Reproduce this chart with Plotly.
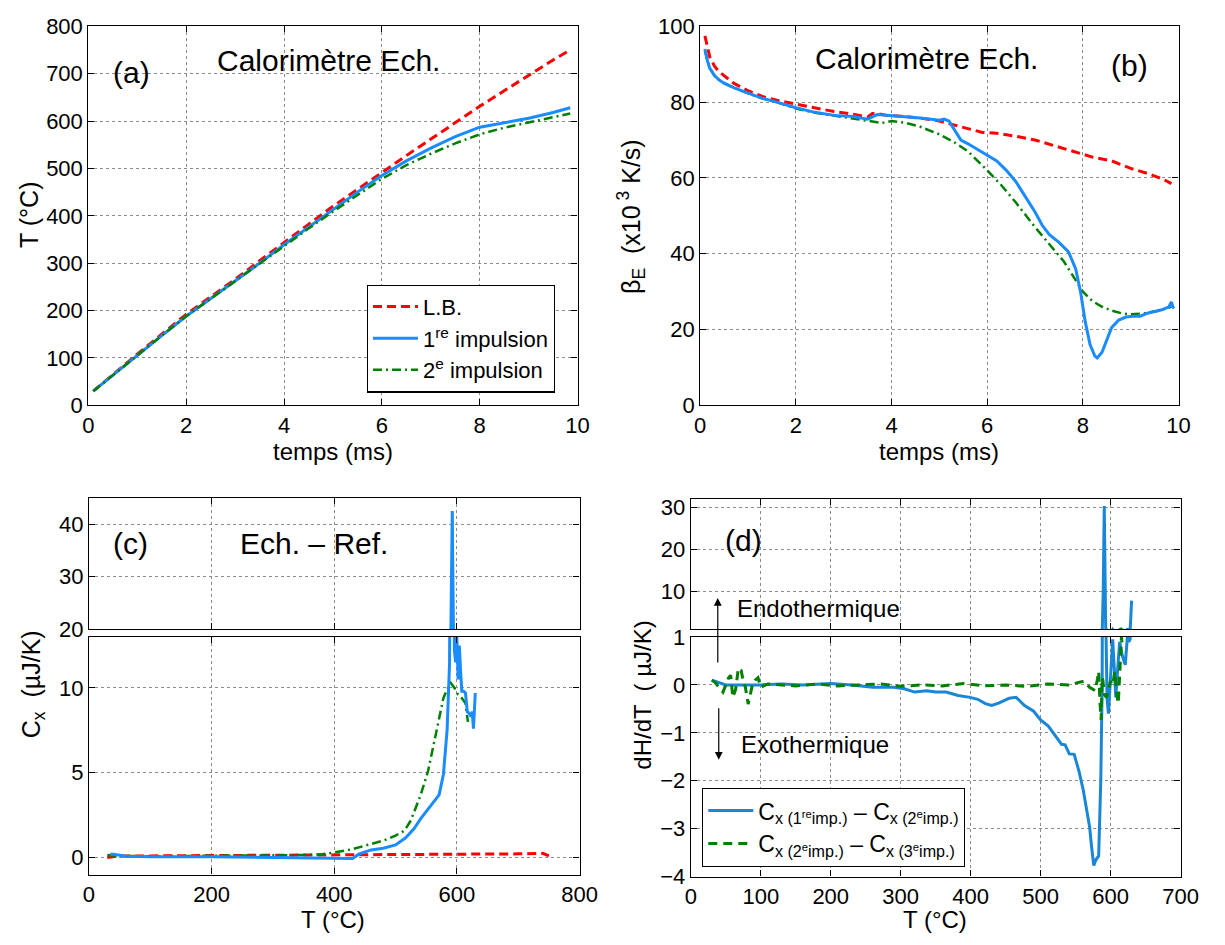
import plotly.graph_objects as go

# ---------------- data ----------------
# (a) temperature vs time
t_a = [0.1, 0.5, 1, 1.5, 2, 2.5, 3, 3.5, 4, 4.5, 5, 5.5, 6, 6.5, 7, 7.5, 8, 8.5, 9, 9.5, 9.85]
T_lb = [30, 65, 108, 150, 192, 229, 266, 305, 344, 382, 420, 456, 492, 527, 562, 597, 631, 664, 697, 729, 750]
T_imp1 = [30, 64, 106, 147, 188, 225, 262, 300, 339, 376, 413, 450, 485, 516, 543, 567, 587, 596, 606, 618, 628]
T_imp2 = [30, 64, 106, 147, 188, 225, 262, 299, 337, 373, 409, 444, 478, 507, 531, 553, 572, 586, 597, 608, 616]

# (b) heating rate vs time
t_b_lb = [0.1, 0.15, 0.2, 0.3, 0.4, 0.5, 0.7, 1.0, 1.3, 1.6, 2.0, 2.4, 2.8, 3.2, 3.5, 3.6, 3.7, 3.9, 4.2, 4.6,
          5.0, 5.3, 5.6, 5.9, 6.2, 6.6, 7.0, 7.4, 7.8, 8.2, 8.6, 9.0, 9.4, 9.7, 9.85]
b_lb = [97.5, 95, 92, 89.5, 88, 87, 85, 83, 81.5, 80.5, 79.5, 78.5, 77.5, 76.8, 76, 77, 77, 76.5, 76.3, 75.8,
        75, 74, 73, 72, 71.8, 71, 70, 68.5, 67, 65.5, 64.5, 62.5, 61, 59.5, 58.5]
t_b1 = [0.1, 0.15, 0.2, 0.3, 0.4, 0.5, 0.7, 1.0, 1.3, 1.6, 2.0, 2.4, 2.8, 3.2, 3.5, 3.7, 3.9, 4.2, 4.6, 5.0,
        5.1, 5.2, 5.3, 5.45, 5.6, 5.8, 6.0, 6.2, 6.4, 6.6, 6.8, 7.0, 7.15, 7.3, 7.5, 7.7, 7.85, 7.95, 8.05,
        8.15, 8.25, 8.3, 8.4, 8.5, 8.6, 8.75, 8.9, 9.05, 9.2, 9.35, 9.5, 9.65, 9.8, 9.85, 9.88, 9.9]
b_imp1 = [94, 91, 89, 87, 85.8, 85, 83.8, 82.3, 81, 80, 78.5, 77.3, 76.5, 76.2, 75.5, 76.7, 76.5, 76.3, 75.8, 75.2,
          75.5, 75, 73, 70, 69, 67.5, 66, 64.5, 62, 59, 55, 51, 47.5, 45, 43, 40.5, 36, 30, 22,
          16, 13, 12.5, 14, 17, 20.5, 22.5, 23.3, 23.5, 23.5, 24.3, 24.7, 25.2, 26, 27.3, 26, 25.5]
t_b2 = [0.1, 0.15, 0.2, 0.3, 0.4, 0.5, 0.7, 1.0, 1.3, 1.6, 2.0, 2.4, 2.8, 3.2, 3.5, 3.8, 4.0, 4.3, 4.6, 5.0,
        5.3, 5.6, 6.0, 6.3, 6.6, 7.0, 7.3, 7.6, 7.9, 8.0, 8.2, 8.4, 8.6, 8.8, 9.0, 9.3, 9.6, 9.85]
b_imp2 = [93.5, 91, 89, 87, 85.8, 85, 83.8, 82.3, 81, 80, 78.3, 77.2, 76.4, 75.8, 75.2, 74.5, 75, 74.5, 73.5, 71.5,
          69.5, 67, 62, 58, 53.5, 47, 42.5, 38, 32, 30, 27.5, 26, 25, 24.3, 24, 24.3, 25, 26]

# (c) Cx vs T
T_c_lb = [30, 50, 100, 200, 300, 400, 450, 500, 550, 600, 650, 700, 740, 750]
c_lb = [0.0, 0.1, 0.1, 0.12, 0.12, 0.13, 0.15, 0.16, 0.18, 0.18, 0.2, 0.22, 0.25, 0.1]
T_c1 = [35, 40, 60, 100, 200, 300, 380, 410, 430, 440, 460, 480, 500, 516, 530, 541, 550, 559, 571, 578, 584,
        588, 590, 591.5, 592.5, 593, 594, 595, 596, 598, 600, 602, 604, 606, 608, 611, 614, 617, 620, 623,
        625, 627, 628.5, 630]
c_imp1 = [0.2, 0.2, 0.08, 0.05, 0.05, 0.02, 0.0, 0.0, -0.05, 0.2, 0.45, 0.55, 0.75, 1.15, 1.7, 2.3, 2.7, 3.1,
          3.7, 4.9, 7.5, 11.4, 18, 30, 42.5, 35, 20, 14, 12.2, 11.5, 13, 10.5, 12.5, 11, 9.8, 9.8, 9.7, 8.6,
          8.5, 8.3, 8.6, 7.6, 8.5, 9.7]
T_c2 = [30, 50, 100, 200, 300, 350, 380, 400, 430, 460, 480, 500, 515, 525, 541, 553, 565, 572, 578, 584, 590,
        596, 602, 608, 614, 616, 618]
c_imp2 = [0.15, 0.1, 0.08, 0.1, 0.12, 0.15, 0.2, 0.3, 0.5, 0.8, 1.0, 1.3, 1.6, 2.2, 3.7, 5.1, 7.2, 8.5, 9.4,
          9.9, 10.3, 10.0, 9.6, 9.4, 9.1, 8.5, 8.0]

# (d) dH/dT vs T
T_d1 = [30, 40, 50, 70, 100, 130, 160, 200, 230, 260, 290, 305, 320, 337, 350, 365, 382, 399, 410, 421, 430,
        440, 455, 465, 477, 490, 500, 511, 519, 530, 535, 541, 548, 555, 561, 566, 570, 573, 576, 579, 583,
        586, 588, 589.5, 591, 592, 593, 595, 597, 600, 603, 605.5, 607.5, 610, 613, 617, 621, 624, 626, 628,
        629, 630]
d_12 = [0.1, 0.05, 0.0, 0.0, 0.0, 0.02, 0.0, 0.03, 0.0, -0.05, -0.05, -0.08, -0.15, -0.12, -0.15, -0.15, -0.22,
        -0.26, -0.3, -0.39, -0.43, -0.38, -0.28, -0.26, -0.43, -0.55, -0.73, -0.86, -1.03, -1.24, -1.25, -1.44,
        -1.45, -1.81, -2.2, -2.6, -2.96, -3.4, -3.77, -3.65, -3.57, -2.0, 0.0, 10, 30.3, 15, 1.5, -0.3, -0.6,
        0.2, 0.95, 0.3, -0.26, 0.3, 0.9, 0.6, 0.42, 1.0, 0.9, 0.95, 4, 7.8]
T_d2 = [30, 35, 40, 46, 50, 54, 57, 60, 64, 68, 72, 74, 78, 82, 85, 88, 92, 96, 100, 110, 130, 150, 180, 210,
        240, 270, 300, 330, 360, 390, 420, 450, 480, 510, 540, 555, 562, 570, 575, 578, 581, 583, 585, 586.5,
        588, 589, 591, 594, 597, 600, 603, 606, 609, 611, 613, 614, 615.5, 617]
d_23 = [0.1, 0.05, -0.05, -0.15, 0.0, 0.15, 0.2, -0.26, -0.1, 0.35, 0.3, 0.15, -0.05, -0.4, -0.2, 0.0, 0.1, 0.15,
        -0.05, 0.02, 0.0, -0.02, 0.02, -0.02, 0.0, 0.02, -0.03, 0.0, -0.02, 0.03, -0.02, 0.0, -0.03, 0.02, 0.0,
        0.05, 0.08, -0.05, -0.1, -0.12, 0.1, 0.28, -0.4, -0.73, 0.15, 0.1, -0.2, -0.26, -0.1, 0.08, 0.0, 0.28,
        -0.2, -0.39, 0.2, 0.7, 1.0, 0.8]

# tick labels
ticks_a_y = [0, 100, 200, 300, 400, 500, 600, 700, 800]
ticks_time = [0, 2, 4, 6, 8, 10]
ticks_b_y = [0, 20, 40, 60, 80, 100]
ticks_c_x = [0, 200, 400, 600, 800]
ticks_c_top = [20, 30, 40]
ticks_c_bot = [0, 5, 10]
ticks_d_x = [0, 100, 200, 300, 400, 500, 600, 700]
ticks_d_top = [10, 20, 30]
ticks_d_bot = [-4, -3, -2, -1, 0, 1]

# ---------------- style ----------------
W, H = 1225, 945
FONT = "Liberation Sans, Arial, Helvetica, sans-serif"
RED = "#ff0000"
BLUE = "#1a8cff"
BLUE_D = "#1a86d6"
GREEN = "#008000"
DASH_R = "9px,5px"
DASHDOT = "9px,4px,2px,4px"
DASH_G = "9px,6px"


def px(x):
    return x / W


def py(y):
    return 1 - y / H


fig = go.Figure()

def line(x, y, xa, ya, color, dash, width, name=None, legend=None, show=False):
    fig.add_trace(go.Scatter(x=x, y=y, mode="lines", xaxis=xa, yaxis=ya,
                             line=dict(color=color, dash=dash, width=width),
                             name=name, showlegend=show,
                             legend=legend if legend else "legend"))

# (a)
line(t_a, T_lb, "x", "y", RED, DASH_R, 3, "L.B.", "legend", True)
line(t_a, T_imp1, "x", "y", BLUE, "solid", 3, "1<sup>re</sup> impulsion", "legend", True)
line(t_a, T_imp2, "x", "y", GREEN, DASHDOT, 2.5, "2<sup>e</sup> impulsion", "legend", True)
# (b)
line(t_b_lb, b_lb, "x2", "y2", RED, DASH_R, 3)
line(t_b2, b_imp2, "x2", "y2", GREEN, DASHDOT, 2.5)
line(t_b1, b_imp1, "x2", "y2", BLUE, "solid", 3)
# (c) bottom + top
for xa, ya in (("x3", "y3"), ("x4", "y4")):
    line(T_c_lb, c_lb, xa, ya, RED, DASH_R, 3)
    line(T_c2, c_imp2, xa, ya, GREEN, DASHDOT, 2.5)
    line(T_c1, c_imp1, xa, ya, BLUE, "solid", 3)
# (d) bottom + top
first = True
for xa, ya in (("x5", "y5"), ("x6", "y6")):
    line(T_d1, d_12, xa, ya, BLUE_D, "solid", 3,
         "C<sub>x (1<sup>re</sup>imp.)</sub> \u2013 C<sub>x (2<sup>e</sup>imp.)</sub>", "legend2", first)
    line(T_d2, d_23, xa, ya, GREEN, DASH_G, 3,
         "C<sub>x (2<sup>e</sup>imp.)</sub> \u2013 C<sub>x (3<sup>e</sup>imp.)</sub>", "legend2", first)
    first = False

ax_common = dict(showline=True, linecolor="black", linewidth=1.2, mirror="ticks",
                 ticks="inside", ticklen=6, tickcolor="black", tickwidth=1,
                 showgrid=True, gridcolor="#8c8c8c", griddash="dot", gridwidth=1,
                 zeroline=False, tickfont=dict(family=FONT, size=22, color="black"))

# domains (pixels -> paper)
dom_a_x = [px(84), px(583)]
dom_b_x = [px(708), px(1196)]
dom_top_y = [py(404), py(14.7)]
dom_c_x = [px(84.6), px(585)]
dom_d_x = [px(698.5), px(1198)]
dom_c_top = [py(634), py(499)]
dom_c_bot = [py(886), py(642)]
dom_d_top = [py(634), py(500)]
dom_d_bot = [py(888), py(642)]

fig.update_layout(
    width=W, height=H, margin=dict(l=0, r=0, t=0, b=0),
    paper_bgcolor="white", plot_bgcolor="white",
    font=dict(family=FONT, color="black"),
    xaxis=dict(domain=dom_a_x, anchor="y", range=[0, 10], tickvals=ticks_time, **ax_common),
    yaxis=dict(domain=dom_top_y, anchor="x", range=[0, 800], tickvals=ticks_a_y, **ax_common),
    xaxis2=dict(domain=dom_b_x, anchor="y2", range=[0, 10], tickvals=ticks_time, **ax_common),
    yaxis2=dict(domain=dom_top_y, anchor="x2", range=[0, 100], tickvals=ticks_b_y, **ax_common),
    xaxis3=dict(domain=dom_c_x, anchor="y3", range=[0, 800], tickvals=ticks_c_x, **ax_common),
    yaxis3=dict(domain=dom_c_bot, anchor="x3", range=[-1, 13], tickvals=ticks_c_bot, **ax_common),
    xaxis4=dict(domain=dom_c_x, anchor="y4", range=[0, 800], tickvals=ticks_c_x, showticklabels=False, **ax_common),
    yaxis4=dict(domain=dom_c_top, anchor="x4", range=[20, 45], tickvals=ticks_c_top, **ax_common),
    xaxis5=dict(domain=dom_d_x, anchor="y5", range=[0, 700], tickvals=ticks_d_x, **ax_common),
    yaxis5=dict(domain=dom_d_bot, anchor="x5", range=[-4, 1], tickvals=ticks_d_bot, **ax_common),
    xaxis6=dict(domain=dom_d_x, anchor="y6", range=[0, 700], tickvals=ticks_d_x, showticklabels=False, **ax_common),
    yaxis6=dict(domain=dom_d_top, anchor="x6", range=[1, 32], tickvals=ticks_d_top, **ax_common),
    legend=dict(x=px(368), y=py(280), xanchor="left", yanchor="top",
                bgcolor="white", bordercolor="black", borderwidth=1.2,
                font=dict(family=FONT, size=22, color="black"),
                itemwidth=45, tracegroupgap=0),
    legend2=dict(x=px(710), y=py(797), xanchor="left", yanchor="top",
                 bgcolor="white", bordercolor="black", borderwidth=1.2,
                 font=dict(family=FONT, size=23, color="black"),
                 itemwidth=45, tracegroupgap=0),
)

ann = []

def text(x, y, s, size=24, angle=0):
    ann.append(dict(x=px(x), y=py(y), xref="paper", yref="paper", text=s, showarrow=False,
                    textangle=angle, xanchor="center", yanchor="middle",
                    font=dict(family=FONT, size=size, color="black")))

# panel texts
text(128, 62, "(a)", 30)
text(329, 50, "Calorimètre Ech.", 30)
text(939, 48, "Calorimètre Ech.", 30)
text(1146, 55, "(b)", 30)
text(127, 546, "(c)", 30)
text(314, 546, "Ech. \u2013 Ref.", 30)
text(752, 543, "(d)", 30)
text(829, 613, "Endothermique", 24)
text(825, 752, "Exothermique", 24)
# axis titles
text(334, 451, "temps (ms)", 24)
text(952, 451, "temps (ms)", 24)
text(334, 932, "T (\u00b0C)", 24)
text(948, 932, "T (\u00b0C)", 24)
text(24, 209, "T (\u00b0C)", 25, -90)
text(638, 210, "\u03b2<sub>E</sub>  (x10<sup> 3</sup> K/s)", 25, -90)
text(27, 690, "C<sub>x</sub>  (\u00b5J/K)", 25, -90)
text(649, 702, "dH/dT  ( \u00b5J/K)", 24, -90)

# arrows
ann.append(dict(x=px(726), y=py(602), xref="paper", yref="paper", ax=0, ay=66,
                showarrow=True, arrowhead=2, arrowsize=1.3, arrowwidth=1.2, arrowcolor="black", text=""))
ann.append(dict(x=px(727), y=py(768), xref="paper", yref="paper", ax=0, ay=-53,
                showarrow=True, arrowhead=2, arrowsize=1.3, arrowwidth=1.2, arrowcolor="black", text=""))

fig.update_layout(annotations=ann)

fig.write_html("out.html")
